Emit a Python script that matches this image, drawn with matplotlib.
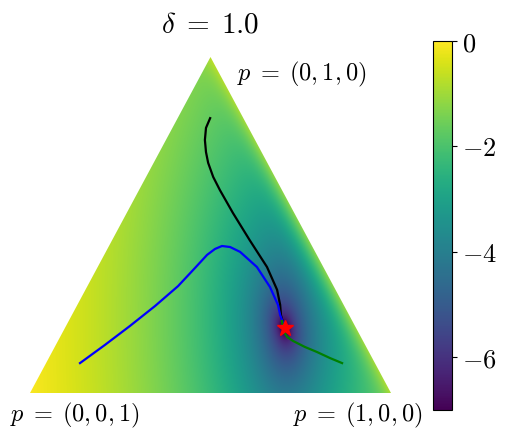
import numpy as np
import matplotlib
matplotlib.use("Agg")
import matplotlib.pyplot as plt
from matplotlib.patches import Polygon

plt.rcParams['mathtext.fontset'] = 'cm'

# trajectories in barycentric coords (p1, p2), p3 = 1 - p1 - p2
black_p1 = [0.090, 0.093, 0.108, 0.129, 0.151, 0.186, 0.224, 0.294, 0.381, 0.469, 0.531, 0.562, 0.579, 0.595]
black_p2 = [0.818, 0.789, 0.753, 0.717, 0.685, 0.643, 0.604, 0.536, 0.455, 0.375, 0.307, 0.262, 0.232, 0.211]
blue_p1 = [0.094, 0.136, 0.177, 0.217, 0.251, 0.271, 0.285, 0.298, 0.313, 0.337, 0.372, 0.441, 0.507, 0.556, 0.577, 0.595]
blue_p2 = [0.089, 0.143, 0.1994, 0.259, 0.318, 0.372, 0.411, 0.4286, 0.4375, 0.4345, 0.420, 0.375, 0.3155, 0.262, 0.232, 0.211]
green_p1 = [0.820, 0.779, 0.734, 0.693, 0.651, 0.629, 0.613, 0.601, 0.591]
green_p2 = [0.089, 0.104, 0.122, 0.137, 0.155, 0.1667, 0.1815, 0.199, 0.214]
star_p = (0.609, 0.193)

cbar_ticks = [0, -2, -4, -6]
cbar_labels = [r'$0$', r'$-2$', r'$-4$', r'$-6$']
vmin, vmax = -7, 0

h = np.sqrt(3) / 2


def to_xy(p1, p2):
    p1 = np.asarray(p1)
    p2 = np.asarray(p2)
    return p1 + 0.5 * p2, h * p2


fig = plt.figure(figsize=(5.06, 4.38), dpi=100)
ax = fig.add_axes([30 / 506, 45 / 438, 361 / 506, 336 / 438])

# background field (log of a gap-like quantity)
xs, ys = to_xy(*star_p)
X, Y = np.meshgrid(np.linspace(0, 1, 800), np.linspace(0, h, 700))
P2 = Y / h
P1 = X - 0.5 * P2
P3 = 1 - P1 - P2
u = X - xs
w = (Y - ys) / h * 336 / 361
s = 0.5 * u - h * w      # along the p3 = const direction
t = h * u + 0.5 * w      # across it
r = np.sqrt(0.6 * s**2 + 1.6 * t**2)
g = 0.045 * r + 1.8 * u**2 + 0.25 * w**2 \
    + 0.25 * np.exp(-np.clip(P3, 0, None) / 0.02) + 1.5e-4
vals = np.clip(np.log(g), vmin, vmax)

im = ax.imshow(vals, extent=[0, 1, 0, h], origin='lower', cmap='viridis',
               vmin=vmin, vmax=vmax, aspect='auto', interpolation='bilinear')
tri = Polygon([[0, 0], [1, 0], [0.5, h]], closed=True, transform=ax.transData)
im.set_clip_path(tri)

bx, by = to_xy(black_p1, black_p2)
ax.plot(bx, by, color='k', lw=1.6)
ux, uy = to_xy(blue_p1, blue_p2)
ax.plot(ux, uy, color='b', lw=1.6)
gx, gy = to_xy(green_p1, green_p2)
ax.plot(gx, gy, color='g', lw=1.6)
ax.plot([xs], [ys], marker='*', color='r', markersize=12, linestyle='none')

ax.set_xlim(0, 1)
ax.set_ylim(0, h)
ax.axis('off')

ax.text(0.753, 0.822, r'$p\;=\;(0,1,0)$', ha='center', va='center', fontsize=17.5, clip_on=False)
ax.text(0.125, -0.057, r'$p\;=\;(0,0,1)$', ha='center', va='center', fontsize=17.5, clip_on=False)
ax.text(0.909, -0.057, r'$p\;=\;(1,0,0)$', ha='center', va='center', fontsize=17.5, clip_on=False)
ax.text(0.5, 1.098 * h, r'$\delta\;=\;1.0$', ha='center', va='center', fontsize=21, clip_on=False)

cax = fig.add_axes([433 / 506, 28 / 438, 19 / 506, 369 / 438])
cb = fig.colorbar(im, cax=cax, ticks=cbar_ticks)
cb.ax.set_yticklabels(cbar_labels, fontsize=19)

fig.savefig("out.png", dpi=100)
